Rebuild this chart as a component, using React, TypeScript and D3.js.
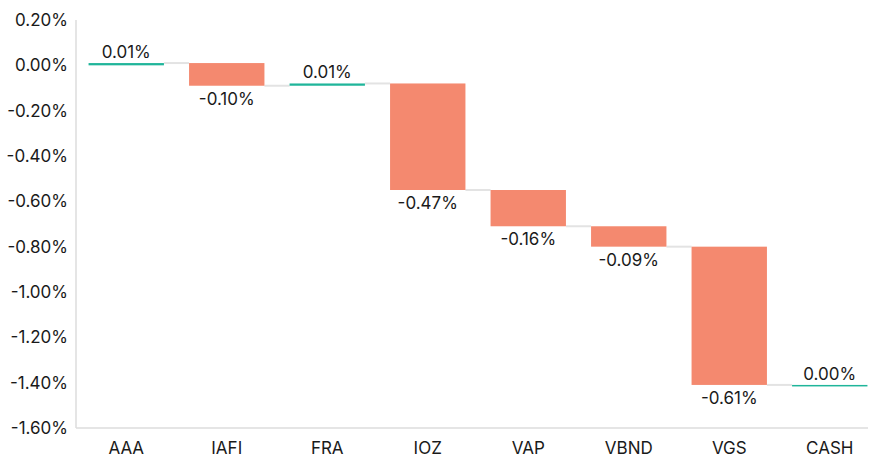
import React, { useEffect, useRef } from 'react';
import * as d3 from 'd3';

const categories = ['AAA', 'IAFI', 'FRA', 'IOZ', 'VAP', 'VBND', 'VGS', 'CASH'];
const changes = [0.01, -0.1, 0.01, -0.47, -0.16, -0.09, -0.61, 0.0];
const yTicks = [0.2, 0, -0.2, -0.4, -0.6, -0.8, -1.0, -1.2, -1.4, -1.6];

const W = 870;
const H = 457;

const pct = (v: number) => d3.format('.2f')(v).replace('\u2212', '-') + '%';

export default function App() {
  const svgRef = useRef<SVGSVGElement>(null);

  useEffect(() => {
    const svg = d3.select(svgRef.current);
    svg.selectAll('*').remove();

    const margin = { top: 20, bottom: 29, left: 76 };
    const font = 'Inter, "Noto Sans", sans-serif';
    const fs = 17;

    const x = d3.scaleBand().domain(categories).range([margin.left, 880]).paddingInner(0.25).paddingOuter(0.125);
    const y = d3.scaleLinear().domain([-1.6, 0.2]).range([H - margin.bottom, margin.top]);

    // running total for each step
    let run = 0;
    const steps = categories.map((c, i) => {
      const start = run;
      run += changes[i];
      return { c, v: changes[i], start, end: run };
    });

    // axis lines
    svg.append('line')
      .attr('x1', margin.left).attr('x2', margin.left)
      .attr('y1', y(0.2)).attr('y2', y(-1.6))
      .attr('stroke', '#dcdcdc').attr('stroke-width', 1.5);
    svg.append('line')
      .attr('x1', margin.left).attr('x2', W - 2)
      .attr('y1', y(-1.6)).attr('y2', y(-1.6))
      .attr('stroke', '#dcdcdc').attr('stroke-width', 1.5);

    svg.append('g').selectAll('text').data(yTicks).join('text')
      .attr('x', 68).attr('y', (d) => y(d)).attr('dy', '0.35em')
      .attr('text-anchor', 'end')
      .attr('font-family', font).attr('font-size', fs).attr('fill', '#1a1a1a')
      .text((d) => pct(d));

    // connectors
    svg.append('g').selectAll('line').data(steps.slice(0, -1)).join('line')
      .attr('x1', (d) => (x(d.c) as number) + x.bandwidth())
      .attr('x2', (d, i) => x(categories[i + 1]) as number)
      .attr('y1', (d) => y(d.end)).attr('y2', (d) => y(d.end))
      .attr('stroke', '#e3e3e3').attr('stroke-width', 2);

    // bars
    svg.append('g').selectAll('rect').data(steps).join('rect')
      .attr('x', (d) => x(d.c) as number)
      .attr('width', x.bandwidth())
      .attr('y', (d) => Math.min(y(d.start), y(d.end)))
      .attr('height', (d) => Math.max(1.5, Math.abs(y(d.start) - y(d.end))))
      .attr('fill', (d) => (d.v >= 0 ? '#1fb59a' : '#f4896f'));

    // value labels
    svg.append('g').selectAll('text').data(steps).join('text')
      .attr('x', (d) => (x(d.c) as number) + x.bandwidth() / 2)
      .attr('y', (d) => (d.v >= 0 ? Math.min(y(d.start), y(d.end)) - 5 : y(d.end) + 19))
      .attr('text-anchor', 'middle')
      .attr('font-family', font).attr('font-size', fs).attr('fill', '#1a1a1a')
      .text((d) => pct(d.v));

    // category labels
    svg.append('g').selectAll('text').data(categories).join('text')
      .attr('x', (d) => (x(d) as number) + x.bandwidth() / 2)
      .attr('y', H - 3)
      .attr('text-anchor', 'middle')
      .attr('font-family', font).attr('font-size', fs).attr('fill', '#1a1a1a')
      .text((d) => d);
  }, []);

  return (
    <svg ref={svgRef} width={W} height={H} style={{ position: 'absolute', left: 0, top: 0 }} />
  );
}
